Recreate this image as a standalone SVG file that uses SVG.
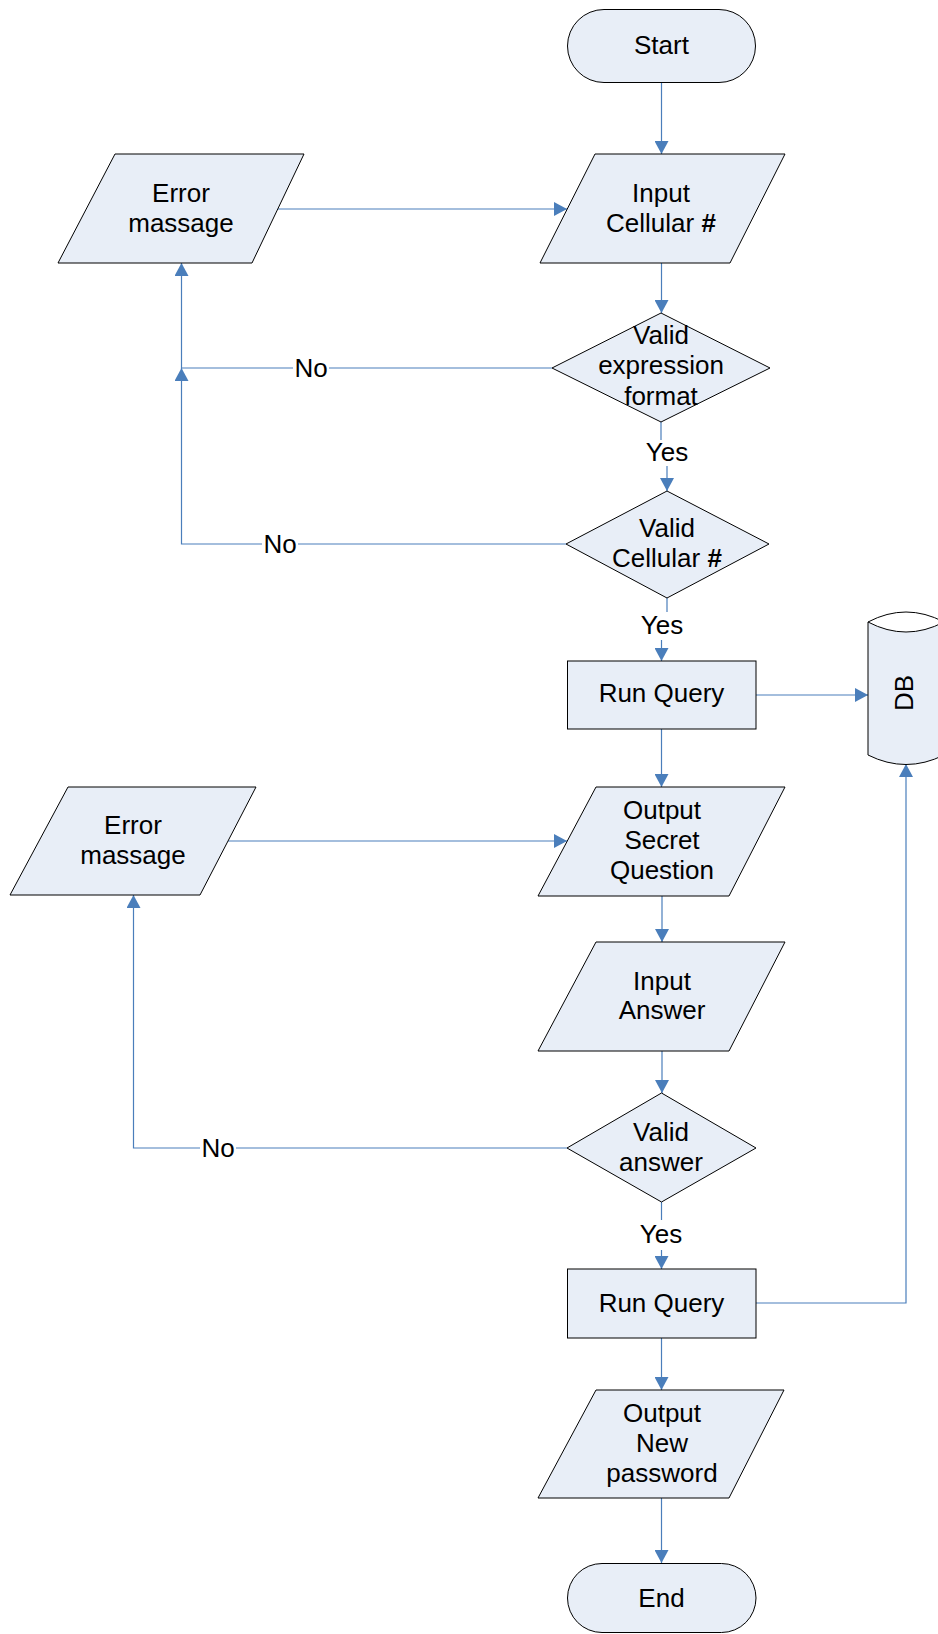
<svg xmlns="http://www.w3.org/2000/svg" width="938" height="1634" viewBox="0 0 938 1634">
  <style>
    .shape { fill: #e8eef7; stroke: #000000; stroke-width: 1; }
    .conn { fill: none; stroke: #4a7ebb; stroke-width: 1.2; }
    .arrow { marker-end: url(#arrowhead); }
    text { font-family: "Liberation Sans", Arial, sans-serif; font-size: 26px; fill: #000000; text-anchor: middle; }
    .hash { font-weight: bold; }
    .lbl-bg { fill: #ffffff; stroke: none; }
  </style>
  <defs>
    <marker id="arrowhead" markerUnits="userSpaceOnUse" markerWidth="13" markerHeight="14" refX="13" refY="7" orient="auto">
      <path d="M0,0 L13,7 L0,14 Z" fill="#4a7ebb"/>
    </marker>
  </defs>
  <rect width="938" height="1634" fill="#ffffff"/>

  <!-- connectors -->
  <g id="connectors">
    <line class="conn arrow" x1="661.5" y1="82" x2="661.5" y2="154"/>
    <line class="conn arrow" x1="278" y1="209" x2="567" y2="209"/>
    <line class="conn arrow" x1="661.5" y1="263" x2="661.5" y2="313"/>
    <!-- No branch of the format check -->
    <polyline class="conn arrow" points="552,368 181.5,368 181.5,263"/>
    <!-- Yes branch of the format check -->
    <line class="conn" x1="661" y1="422" x2="661" y2="440"/>
    <line class="conn arrow" x1="667" y1="466" x2="667" y2="491"/>
    <!-- No branch of the number check -->
    <polyline class="conn arrow" points="566,544 181.5,544 181.5,368"/>
    <!-- Yes branch of the number check -->
    <line class="conn" x1="667" y1="598" x2="667" y2="612"/>
    <line class="conn arrow" x1="661.5" y1="640" x2="661.5" y2="661"/>
    <line class="conn arrow" x1="756" y1="695" x2="868" y2="695"/>
    <line class="conn arrow" x1="661.5" y1="729" x2="661.5" y2="787"/>
    <line class="conn arrow" x1="228" y1="841" x2="567" y2="841"/>
    <line class="conn arrow" x1="662" y1="896" x2="662" y2="942"/>
    <line class="conn arrow" x1="662" y1="1051" x2="662" y2="1093"/>
    <!-- No branch of the answer check -->
    <polyline class="conn arrow" points="567,1148 133.5,1148 133.5,895"/>
    <!-- Yes branch of the answer check -->
    <line class="conn" x1="661.5" y1="1202" x2="661.5" y2="1220"/>
    <line class="conn arrow" x1="661.5" y1="1250" x2="661.5" y2="1269"/>
    <polyline class="conn arrow" points="756,1303 906,1303 906,764"/>
    <line class="conn arrow" x1="661.5" y1="1338" x2="661.5" y2="1390"/>
    <line class="conn arrow" x1="661.5" y1="1498" x2="661.5" y2="1563"/>

    <!-- branch labels -->
    <rect class="lbl-bg" x="293" y="354" width="36" height="26"/>
    <text x="311" y="377">No</text>
    <rect class="lbl-bg" x="262" y="530" width="36" height="26"/>
    <text x="280" y="553">No</text>
    <rect class="lbl-bg" x="200" y="1134" width="36" height="26"/>
    <text x="218" y="1157">No</text>
    <text x="667" y="461">Yes</text>
    <text x="662" y="634">Yes</text>
    <text x="661" y="1243">Yes</text>
  </g>

  <!-- nodes -->
  <g id="start">
    <rect class="shape" x="567.5" y="9.5" width="188" height="73" rx="36.5" ry="36.5"/>
    <text x="661.5" y="54">Start</text>
  </g>
  <g id="input-cellular">
    <polygon class="shape" points="595,154 785,154 730,263 540,263"/>
    <text x="661" y="202">Input</text>
    <text x="661" y="232">Cellular <tspan class="hash">#</tspan></text>
  </g>
  <g id="error-1">
    <polygon class="shape" points="115,154 304,154 252,263 58,263"/>
    <text x="181" y="202">Error</text>
    <text x="181" y="232">massage</text>
  </g>
  <g id="check-format">
    <polygon class="shape" points="661,313 770,368 661,422 552,368"/>
    <text x="661" y="344">Valid</text>
    <text x="661" y="374">expression</text>
    <text x="661" y="405">format</text>
  </g>
  <g id="check-number">
    <polygon class="shape" points="667,491 769,544 667,598 566,544"/>
    <text x="667" y="537">Valid</text>
    <text x="667" y="567">Cellular <tspan class="hash">#</tspan></text>
  </g>
  <g id="run-query-1">
    <rect class="shape" x="567.5" y="661" width="188.5" height="68"/>
    <text x="661.5" y="702">Run Query</text>
  </g>
  <g id="db">
    <path class="shape" d="M868,622 Q906,642 944,622 L944,755 Q906,774 868,755 Z"/>
    <path fill="none" stroke="#000000" stroke-width="1" d="M868,622 Q906,602 944,622"/>
    <text x="0" y="0" font-size="26" transform="translate(913,693) rotate(-90)">DB</text>
  </g>
  <g id="error-2">
    <polygon class="shape" points="68,787 256,787 200,895 10,895"/>
    <text x="133" y="834">Error</text>
    <text x="133" y="864">massage</text>
  </g>
  <g id="output-question">
    <polygon class="shape" points="596,787 785,787 729,896 538,896"/>
    <text x="662" y="819">Output</text>
    <text x="662" y="849">Secret</text>
    <text x="662" y="879">Question</text>
  </g>
  <g id="input-answer">
    <polygon class="shape" points="596,942 785,942 729,1051 538,1051"/>
    <text x="662" y="990">Input</text>
    <text x="662" y="1019">Answer</text>
  </g>
  <g id="check-answer">
    <polygon class="shape" points="661.5,1093 756,1148 661.5,1202 567,1148"/>
    <text x="661" y="1141">Valid</text>
    <text x="661" y="1171">answer</text>
  </g>
  <g id="run-query-2">
    <rect class="shape" x="567.5" y="1269" width="188.5" height="69"/>
    <text x="661.5" y="1312">Run Query</text>
  </g>
  <g id="output-password">
    <polygon class="shape" points="596,1390 784,1390 729,1498 538,1498"/>
    <text x="662" y="1422">Output</text>
    <text x="662" y="1452">New</text>
    <text x="662" y="1482">password</text>
  </g>
  <g id="end">
    <rect class="shape" x="567.5" y="1563.5" width="188.5" height="69" rx="34.5" ry="34.5"/>
    <text x="661.5" y="1607">End</text>
  </g>
</svg>
